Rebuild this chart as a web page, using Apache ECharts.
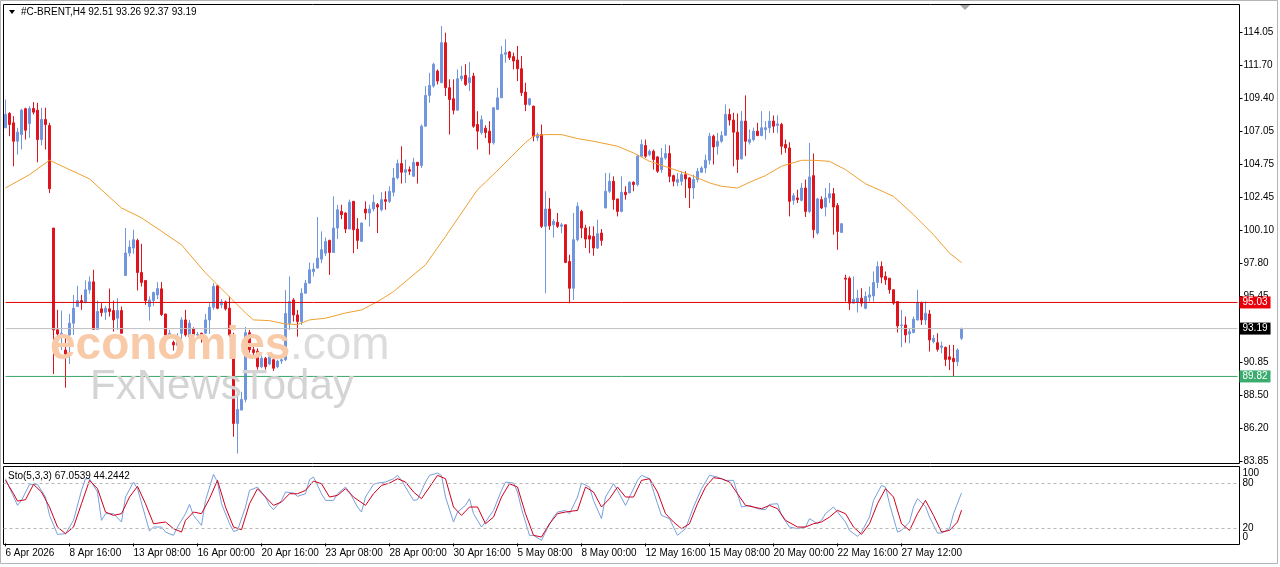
<!DOCTYPE html>
<html>
<head>
<meta charset="utf-8">
<script src="https://cdn.jsdelivr.net/npm/echarts@6/dist/echarts.min.js"></script>
<style>
  html, body { margin: 0; padding: 0; background: #fff; }
  #chart { width: 1280px; height: 567px; }
</style>
</head>
<body>
<div id="chart"></div>
<script>
// H4 bars
const opens = [107.33,108.34,107.68,106.38,106.85,108.67,107.63,108.69,108.57,106.50,107.91,107.49,100.27,93.10,92.62,91.68,92.74,93.57,94.74,95.16,95.05,95.92,96.48,93.14,94.58,94.34,94.58,94.46,93.92,94.46,96.93,98.51,98.86,99.40,97.14,96.58,94.74,95.16,95.56,95.99,94.22,92.74,92.22,92.00,92.86,93.80,92.62,93.19,92.74,92.86,92.86,93.80,94.69,96.20,94.86,95.07,94.62,92.74,86.51,87.45,88.20,92.90,91.70,91.60,90.50,91.10,90.70,91.00,90.50,90.90,91.00,93.56,95.21,94.15,93.68,95.68,96.39,97.21,97.45,98.08,98.50,99.40,98.55,100.27,101.44,101.33,100.20,102.15,100.20,99.33,101.61,101.33,101.61,101.91,101.56,102.27,102.15,102.79,103.80,104.81,104.20,104.38,103.91,104.90,104.67,107.44,109.61,110.27,111.32,110.50,113.32,110.15,109.37,108.57,110.78,111.02,110.50,110.97,107.56,107.00,107.30,107.09,106.27,108.62,109.44,112.50,112.67,112.34,112.10,111.49,109.84,108.97,108.86,106.62,106.85,100.39,101.61,100.50,100.67,100.39,100.50,97.92,96.03,99.45,101.44,100.27,99.73,99.68,98.86,99.92,101.68,102.86,103.56,102.32,101.44,102.79,102.74,103.49,103.33,105.33,106.08,105.44,105.68,105.28,104.38,105.21,105.51,103.96,103.49,103.56,104.03,103.80,103.09,103.68,104.20,104.50,105.05,106.74,106.03,106.38,106.80,108.27,107.87,107.02,105.14,107.80,106.31,106.50,107.09,106.78,107.20,107.33,107.80,107.50,107.56,106.15,105.91,102.22,102.39,102.22,103.09,101.44,103.96,99.92,102.27,101.75,102.39,102.69,101.85,99.96,96.74,96.74,94.98,95.02,95.33,94.62,95.40,95.49,96.44,97.56,96.86,96.74,95.92,95.09,93.40,93.45,92.81,92.91,93.80,95.02,93.80,94.22,92.27,92.20,91.87,91.87,91.20,91.10,90.86,92.51];
const closes = [108.27,107.56,106.38,107.02,108.57,107.16,108.69,108.43,106.50,107.91,107.56,103.04,93.10,92.81,92.86,91.40,93.57,94.62,95.16,95.05,95.92,96.48,93.14,94.39,94.32,94.62,94.39,93.80,94.46,92.86,98.51,98.93,99.45,97.14,96.44,95.16,95.21,95.73,96.01,94.18,92.74,92.86,92.04,92.50,93.80,92.74,93.57,92.74,92.78,92.62,93.80,94.69,96.15,94.62,95.07,94.58,92.74,86.51,87.50,88.20,92.90,91.70,91.50,90.50,91.10,90.50,91.20,90.40,90.90,91.00,94.25,95.09,94.15,93.68,95.68,96.39,97.33,97.38,98.15,98.74,99.33,98.55,100.27,101.56,101.21,100.20,102.08,100.15,99.40,100.62,101.33,101.61,102.08,101.75,102.27,102.15,102.86,103.80,104.81,104.20,104.38,104.27,104.90,104.67,107.44,109.61,110.31,111.80,110.62,113.32,110.15,109.32,108.57,110.78,110.97,110.38,110.85,107.44,107.09,107.90,107.00,106.27,108.74,109.44,112.50,112.62,112.27,112.03,111.49,109.80,108.97,109.37,106.74,106.85,100.39,101.61,100.43,100.74,100.39,100.50,97.85,96.03,99.45,101.80,100.27,99.49,99.49,98.86,99.87,99.40,102.86,103.56,102.27,101.44,102.79,102.62,103.49,103.33,105.33,106.15,105.33,105.68,105.09,104.27,105.21,105.51,103.91,103.56,103.68,104.03,103.73,103.09,103.68,104.27,104.50,105.05,106.74,105.98,106.38,106.78,108.27,107.87,107.02,105.09,107.80,106.38,106.50,107.09,106.78,107.33,107.33,107.80,107.44,107.60,106.03,105.91,102.15,102.55,102.27,103.09,101.44,103.87,100.15,102.32,101.68,102.39,102.69,101.75,100.03,100.57,96.67,94.98,95.26,95.33,94.98,95.45,95.56,96.44,97.56,96.81,96.62,95.92,94.98,93.38,93.45,92.74,92.98,93.85,95.02,93.80,94.27,92.39,92.51,91.73,91.97,91.02,91.02,90.86,91.68,93.19];
const lows = [107.33,106.74,104.62,105.44,105.80,106.50,106.62,108.27,104.90,106.08,105.80,102.74,89.99,91.21,91.68,89.03,90.70,92.74,94.74,94.51,94.98,95.64,93.14,93.14,94.04,93.80,94.04,92.98,93.10,92.86,96.93,98.27,98.46,95.87,96.15,94.86,93.75,94.79,95.26,94.08,92.62,92.51,91.64,91.92,91.87,92.62,92.34,92.51,92.55,92.20,92.81,92.81,94.51,94.55,94.62,94.46,92.62,85.57,84.39,87.45,88.00,91.50,91.20,90.30,90.40,90.30,90.60,90.20,90.40,90.70,90.90,93.09,93.68,92.62,93.44,95.68,96.39,96.86,97.45,97.80,98.30,96.97,98.55,99.49,100.90,99.92,100.20,98.50,98.79,99.33,100.86,100.38,101.44,99.92,101.44,101.56,102.03,102.50,103.68,103.40,103.44,104.00,103.91,103.40,104.50,107.44,109.09,110.15,110.38,110.50,109.56,106.85,108.27,108.57,110.62,110.27,109.91,107.33,105.80,106.85,106.60,105.44,106.15,108.62,109.44,111.91,112.10,111.44,110.62,109.56,108.50,108.86,106.38,106.40,100.27,95.68,100.15,99.60,100.27,99.90,97.80,94.97,95.21,99.33,99.56,98.86,98.50,98.32,98.79,99.02,101.68,102.74,101.56,101.09,101.37,102.27,102.74,102.86,103.21,105.28,105.21,105.33,104.38,104.15,104.15,105.09,103.49,103.21,103.21,103.26,102.39,101.68,102.32,103.49,104.15,104.15,104.74,104.74,105.44,106.27,106.80,107.49,104.62,104.15,105.09,105.33,106.15,106.38,106.74,106.74,106.50,106.97,106.97,106.97,105.44,105.56,101.09,101.91,102.03,102.15,101.05,101.33,99.56,99.80,101.61,101.09,102.03,99.80,98.74,99.96,95.09,94.50,94.98,94.32,94.74,94.55,95.09,95.09,96.03,96.39,96.27,95.64,94.86,92.91,91.87,92.20,92.15,92.86,93.75,93.45,93.45,91.57,92.15,91.57,91.45,90.55,90.27,89.80,90.55,92.37];
const highs = [109.32,108.43,108.15,107.33,108.67,108.74,108.85,109.14,109.09,108.74,108.74,107.68,100.27,94.51,94.46,92.62,94.22,95.56,96.20,95.56,96.58,96.86,97.33,95.16,94.98,94.79,96.01,95.16,95.33,94.74,100.27,99.40,100.15,99.52,99.16,96.58,95.45,95.80,96.46,96.46,94.22,93.10,92.34,92.86,93.99,94.51,93.80,93.28,92.95,92.90,94.22,94.98,96.39,96.27,95.26,95.16,95.45,92.90,88.39,88.74,93.30,93.10,92.00,91.80,91.30,91.20,91.40,91.10,91.00,91.30,95.90,96.86,95.33,94.50,96.03,96.62,97.84,97.80,101.04,100.03,99.60,99.45,102.50,101.91,101.91,101.37,102.27,102.15,100.97,100.67,102.15,101.91,102.62,102.03,102.79,102.86,103.21,104.50,105.09,106.03,105.09,104.60,105.21,104.90,107.56,110.27,111.20,111.91,111.44,114.50,114.03,110.74,110.74,111.44,111.68,111.80,111.96,111.20,108.50,108.20,107.50,107.80,108.74,110.15,113.09,113.56,112.74,112.62,113.09,112.38,110.50,109.44,108.86,107.00,107.56,102.86,102.39,100.90,101.33,100.62,100.50,98.39,101.33,102.08,101.56,100.50,100.39,100.39,100.86,100.20,104.15,104.15,103.91,102.32,103.91,103.21,103.56,103.56,105.44,106.50,106.50,105.80,105.80,105.33,105.91,106.15,106.08,104.03,104.15,104.27,104.27,103.87,104.03,104.50,104.62,105.44,106.97,106.85,106.97,107.09,108.97,108.67,108.39,108.34,108.50,109.61,107.21,107.33,107.68,108.50,107.80,108.50,108.20,108.20,107.68,106.50,106.31,102.74,102.97,103.44,103.68,106.27,105.51,102.39,102.50,103.09,103.44,103.09,102.03,100.62,96.98,96.86,96.86,95.92,96.03,95.80,96.15,97.21,97.92,97.92,97.21,96.74,95.96,95.09,94.50,94.04,93.20,94.04,95.92,95.09,95.09,94.50,92.74,92.86,92.27,91.92,92.04,92.04,91.80,93.26];

// moving average (orange), bar index -> value
const maAt  = [0,6,11,21,29,34,44,50,55,60,62,66,70,73,76,80,85,89,93,97,101,105,110,114,118,120,125,130,132,135,139,143,147,153,157,161,166,171,176,179,183,186,190,194,199,202,206,210,215,222,227,232,236,239];
const maVal = [103.09,104.03,105.04,103.73,101.68,100.99,99.09,97.11,95.70,94.29,93.80,93.75,93.51,93.48,93.80,93.92,94.29,94.50,95.09,95.79,96.74,97.68,99.68,101.33,102.97,103.50,104.88,106.29,106.75,106.85,106.85,106.57,106.38,106.03,105.56,104.97,104.50,104.03,103.45,103.21,103.09,103.49,103.96,104.62,105.04,105.04,104.97,104.38,103.39,102.50,101.21,99.80,98.50,97.84];

// Stochastic (5,3,3)
const kAt  = [0,3,4,6,8,10,11,13,15,17,19,20,21,23,24,25,27,29,30,32,33,35,36,37,39,40,42,43,45,46,47,49,50,52,53,54,56,57,58,60,61,63,65,66,67,69,70,72,73,75,76,77,79,80,82,83,85,86,88,89,90,92,93,95,97,98,99,101,102,103,105,106,108,109,110,112,113,115,116,117,119,120,122,124,125,127,128,129,131,132,134,135,137,138,140,141,143,144,146,147,149,150,152,153,155,156,158,159,161,163,164,166,168,170,172,174,176,178,180,182,184,186,188,190,191,193,194,196,198,200,201,203,204,205,207,208,210,211,213,214,216,217,219,220,221,223,224,226,227,228,230,231,233,234,236,237,239];
const kVal = [86,50.7,57.3,78.7,78.7,61.8,37.3,12,12.9,30.7,70.7,86.2,86.2,68.5,30.7,39.6,39.6,28.5,61.8,81.8,72.9,35.1,16.5,21.8,21.8,15.1,10.7,21.8,39.6,52,37.3,24,57.3,92,81.8,52.9,26.2,16,17.3,48.5,70.7,75.1,61.8,50.7,44.9,57.3,68.5,67.1,62.7,66.2,84.9,88.4,66.2,57.3,57.3,66.2,75.1,68.5,48.5,41.8,61.8,78.7,80.4,81.8,86.2,90.7,84,66.2,57.3,58.2,81.8,90.7,93.8,90.7,61.8,28.5,41.8,50.7,59.6,39.6,21.8,28.5,44,70.7,81.8,80.4,68.5,46.2,10.7,10.7,4,15.1,35.1,41.8,44,39.6,61.8,80.4,75.1,57.3,32.9,61.8,79.6,70.7,50.7,61.8,84,90.7,86.2,52.9,37.3,32.9,10.7,19.6,48.5,72.9,90.7,88.4,84,84,48.5,50.7,46.2,44.9,52,52.9,37.3,21.8,19.6,21.8,32.9,26.2,30.7,39.6,48.5,41.8,28.5,17.3,9.3,15.1,35.1,57.3,77.3,75.1,52.9,15.1,17.3,28.5,48.5,59.6,49.3,35.1,13.8,13.8,19.6,39.6,67.05];
const dAt  = [0,2,3,5,7,9,11,13,15,17,19,21,23,25,27,29,31,33,35,37,40,42,44,45,47,49,51,53,55,57,59,61,63,65,67,69,71,73,75,77,79,81,83,85,87,90,92,94,96,98,100,102,104,106,108,110,112,114,116,118,120,122,124,126,128,130,132,134,136,138,140,143,145,147,149,151,153,155,157,159,161,163,165,167,169,171,173,175,177,179,181,183,185,187,189,191,193,195,198,200,202,204,206,208,210,212,214,216,218,220,222,224,226,228,230,232,234,236,238,239];
const dVal = [84,66.2,56.4,58.2,78.7,68.5,48.5,21.8,12.9,21.8,52.9,84,72.9,41.8,37.3,39.6,61.8,76,52.9,26.2,28.5,19.6,15.1,30.7,41.8,39.6,59.6,84,48.5,21.8,18.2,52.9,72.9,61.8,50.7,55.1,66.2,66.2,70.7,83.1,79.6,61.8,64,72.9,61.8,50.7,66.2,77.3,80.4,86.2,81.8,68.5,59.6,75.1,90.7,86.2,48.5,37.3,48.5,48.5,26.2,35.1,61.8,79.6,75.1,39.6,10.7,8.5,26.2,39.6,41.8,44,75.1,68.5,48.5,59.6,75.1,61.8,61.8,84,86.2,68.5,39.6,28.5,19.6,26.2,52.9,75.1,87.6,86.2,81.8,66.2,50.7,48.5,46.2,50.7,46.2,30.7,21.8,21.8,26.2,28.5,35.1,44,39.6,21.8,12,26.2,52.9,72.9,61.8,26.2,17.3,39.6,57.3,37.3,15.1,17.3,28.5,44.24];

// axis text
const priceTicks = [83.85,86.20,88.50,90.85,95.45,97.80,100.10,102.45,104.75,107.05,109.40,111.70,114.05];
const stoInner = [80, 20];
const stoOuter = [93, 8];   // where MT4 draws "100" and "0"
const dateLabels = ['6 Apr 2026','8 Apr 16:00','13 Apr 08:00','16 Apr 00:00','20 Apr 16:00','23 Apr 08:00','28 Apr 00:00','30 Apr 16:00','5 May 08:00','8 May 00:00','12 May 16:00','15 May 08:00','20 May 00:00','22 May 16:00','27 May 12:00'];
const labelBars = [0,16,32,48,64,80,96,112,128,144,160,176,192,208,224];
const levels = [
  { value: 95.03, line: '#e00000', box: '#e8000b' },
  { value: 93.19, line: '#c0c0c0', box: '#000000' },
  { value: 89.82, line: '#3ca66a', box: '#3aad6e' }
];

const FONT = '"Liberation Sans", Arial, sans-serif';
const totalBars = 309;  // includes empty space on the right
const cats = [];
for (let i = 0; i < totalBars; i++) {
  const k = labelBars.indexOf(i);
  cats.push(k >= 0 ? dateLabels[k] : '');
}
const candleData = opens.map((o, i) => [o, closes[i], lows[i], highs[i]]);
const pairs = (at, val) => at.map((b, i) => [b, val[i]]);
const showCat = (idx, v) => v !== '';

const chart = echarts.init(document.getElementById('chart'), null, { renderer: 'canvas' });

// horizontal price levels, each a flat line with its price box at the right edge
const levelSeries = levels.map(l => ({
  name: 'L' + l.value, type: 'line', xAxisIndex: 0, yAxisIndex: 0,
  data: [[0, l.value], [totalBars - 1, l.value]],
  showSymbol: false, symbol: 'none', silent: true,
  lineStyle: { color: l.line, width: 1 },
  endLabel: { show: true, formatter: l.value.toFixed(2), color: '#fff', backgroundColor: l.box,
    padding: [1, 3, 1, 3], fontSize: 10, distance: 2, fontFamily: FONT },
  z: 4
}));

const stoLabel = v => (v > 90 ? '100' : v < 10 ? '0' : String(v));

const option = {
  animation: false,
  backgroundColor: '#fff',
  textStyle: { fontFamily: FONT },
  grid: [
    { left: 3.5, right: 40.5, top: 4.5, height: 459, show: true, borderColor: '#000', borderWidth: 1 },
    { left: 3.5, right: 40.5, top: 466.5, height: 78, show: true, borderColor: '#000', borderWidth: 1 }
  ],
  xAxis: [
    { type: 'category', gridIndex: 0, data: cats, axisLine: { show: false }, axisTick: { show: false },
      axisLabel: { show: false }, splitLine: { show: false } },
    { type: 'category', gridIndex: 1, data: cats, axisLine: { show: false },
      axisTick: { show: true, alignWithLabel: true, interval: showCat, length: 3, lineStyle: { color: '#000' } },
      axisLabel: { interval: showCat, align: 'left', margin: 4, fontSize: 10, color: '#000', fontFamily: FONT },
      splitLine: { show: false } }
  ],
  yAxis: [
    { type: 'value', gridIndex: 0, position: 'right', min: 83.69, max: 116.01,
      axisLine: { show: false }, splitLine: { show: false },
      axisTick: { show: true, customValues: priceTicks, length: 3, lineStyle: { color: '#000' } },
      axisLabel: { customValues: priceTicks, formatter: v => v.toFixed(2), margin: 4, fontSize: 10,
        color: '#000', fontFamily: FONT } },
    { type: 'value', gridIndex: 1, position: 'right', min: -1.5, max: 102.5,
      axisLine: { show: false }, splitLine: { show: false }, axisTick: { show: false },
      axisLabel: { customValues: stoInner, formatter: stoLabel, margin: 3, fontSize: 10, color: '#000', fontFamily: FONT } },
    { type: 'value', gridIndex: 1, position: 'right', min: -1.5, max: 102.5, offset: 0,
      axisLine: { show: false }, splitLine: { show: false }, axisTick: { show: false },
      axisLabel: { customValues: stoOuter, formatter: stoLabel, margin: 3, fontSize: 10, color: '#000', fontFamily: FONT } }
  ],
  series: [
    {
      name: 'BRENT', type: 'candlestick', xAxisIndex: 0, yAxisIndex: 0, data: candleData,
      barWidth: 2,
      itemStyle: { color: '#6f96de', color0: '#e0141c', borderColor: '#6f96de', borderColor0: '#e0141c', borderWidth: 1 }
    },
    ...levelSeries,
    {
      name: 'MA', type: 'line', xAxisIndex: 0, yAxisIndex: 0, data: pairs(maAt, maVal),
      showSymbol: false, lineStyle: { color: '#f0a030', width: 1 }, z: 3
    },
    {
      name: 'K', type: 'line', xAxisIndex: 1, yAxisIndex: 1, data: pairs(kAt, kVal),
      showSymbol: false, lineStyle: { color: '#78a0dc', width: 1 },
      markLine: {
        silent: true, symbol: 'none', animation: false, label: { show: false },
        lineStyle: { color: '#b8b8b8', type: [3, 3], width: 1 },
        data: [{ yAxis: 80 }, { yAxis: 20 }]
      }
    },
    {
      name: 'D', type: 'line', xAxisIndex: 1, yAxisIndex: 1, data: pairs(dAt, dVal),
      showSymbol: false, lineStyle: { color: '#d0001c', width: 1 }
    }
  ],
  graphic: [
    { type: 'rect', z: 0, shape: { x: 0.5, y: 0.5, width: 1277, height: 563 }, style: { fill: 'none', stroke: '#b4b4b4', lineWidth: 1 } },
    { type: 'polygon', z: 100, shape: { points: [[9, 10], [15, 10], [12, 14]] }, style: { fill: '#000' } },
    { type: 'text', z: 100, style: { x: 21, y: 12, text: '#C-BRENT,H4 92.51 93.26 92.37 93.19', font: '10px ' + FONT, fill: '#000', verticalAlign: 'middle' } },
    { type: 'text', z: 100, style: { x: 8, y: 476, text: 'Sto(5,3,3) 67.0539 44.2442', font: '10px ' + FONT, fill: '#000', verticalAlign: 'middle' } },
    { type: 'polygon', z: 100, shape: { points: [[960, 5], [970, 5], [965, 10]] }, style: { fill: '#a8a8a8' } },
    { type: 'text', z: 100, style: { x: 50, y: 346, text: 'economies', font: 'bold 46px ' + FONT, fill: '#f8caa8', verticalAlign: 'middle' } },
    { type: 'text', z: 100, style: { x: 290, y: 346, text: '.com', font: '46px ' + FONT, fill: '#dcdcdc', verticalAlign: 'middle' } },
    { type: 'text', z: 100, style: { x: 90, y: 387, text: 'FxNewsToday', font: '42px ' + FONT, fill: '#d4d4d4', verticalAlign: 'middle' } }
  ]
};

chart.setOption(option);
</script>
</body>
</html>
